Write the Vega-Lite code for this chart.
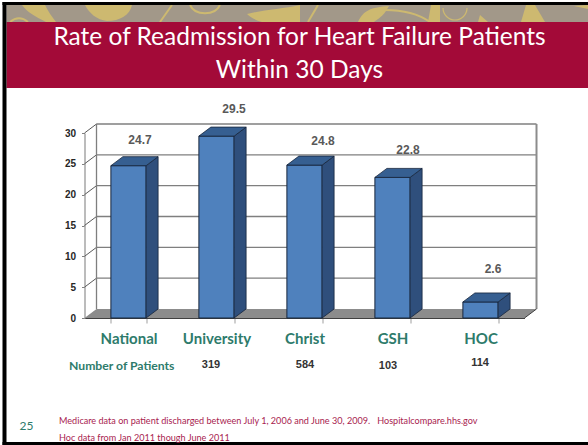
{
"$schema":"https://vega.github.io/schema/vega-lite/v6.json",
"width":440,"height":185,"autosize":"none",
"padding":{"left":84.5,"top":133,"right":63.5,"bottom":127},
"background":"white",
"config":{"view":{"stroke":null},"axisY":{"tickCount":7,"grid":false,"labelOverlap":false,"labelBound":false,"domainColor":"#A6A6A6","domainWidth":1.5,"tickColor":"#808080","tickSize":3,"labelFont":"Liberation Sans","labelFontWeight":"bold","labelFontSize":10,"labelColor":"#262626","labelPadding":6}},
"datasets":{
"bars":[
{"category":"National","value":24.7,"patients":null,"order":0},
{"category":"University","value":29.5,"patients":319,"order":1},
{"category":"Christ","value":24.8,"patients":584,"order":2},
{"category":"GSH","value":22.8,"patients":103,"order":3},
{"category":"HOC","value":2.6,"patients":114,"order":4}],
"depth":[{"t":0},{"t":1}],
"ticks":[{"v":5},{"v":10},{"v":15},{"v":20},{"v":25},{"v":30}],
"one":[{"n":1}]
},
"resolve":{"scale":{"x":"independent"},"axis":{"x":"independent"}},
"layer":[
{"data":{"name":"one"},"mark":{"type":"rect","fill":"#A29889"},"encoding":{"x":{"value":-78},"x2":{"value":503.5},"y":{"value":-128},"y2":{"value":-111}}},
{"data":{"name":"one"},"mark":{"type":"point","filled":true,"fill":"#CDB970","opacity":1,"size":4,"shape":"M22,5 L45,5 C48,11 52,17 56,22 L46,22 C36,17 27,12 22,5 Z M85,5 L132,5 C130,15 120,21 107,21 C97,20 89,13 85,5 Z M247,14 C262,10 282,9 300,5 L300,22 L262,22 C255,20 250,17 247,14 Z M358,22 C363,11 371,7 389,6 L386,11 C381,18 376,20 374,22 Z M428,22 L431,5 L440,5 L440,22 Z M480,15 L488,22 L478,22 Z M521,22 L526,5 L535,5 L545,22 Z M574,6 L588,5 L588,9 Z"},"encoding":{"x":{"value":-84.5},"y":{"value":-133}}},
{"data":{"name":"one"},"mark":{"type":"point","filled":false,"fill":null,"stroke":"#CDB970","strokeWidth":2,"opacity":1,"size":4,"shape":"M160,22 L172,5 M308,22 L318,5 M190,5 C195,16 215,16 220,5 M385,10 C405,10 420,15 430,22 M10,22 C16,17 22,17 28,22"},"encoding":{"x":{"value":-84.5},"y":{"value":-133}}},
{"data":{"name":"one"},"mark":{"type":"point","filled":false,"fill":null,"stroke":"#CDB970","strokeWidth":1.2,"opacity":1,"size":4,"shape":"M443,8 A12,12 0 1 0 467,8"},"encoding":{"x":{"value":-84.5},"y":{"value":-133}}},
{"data":{"name":"one"},"mark":{"type":"rect","fill":"#A30A38"},"encoding":{"x":{"value":-78},"x2":{"value":503.5},"y":{"value":-111},"y2":{"value":-45}}},
{"data":{"name":"one"},"mark":{"type":"rect","fill":"black"},"encoding":{"x":{"value":-82},"x2":{"value":503.5},"y":{"value":-131},"y2":{"value":-128}}},
{"data":{"name":"one"},"mark":{"type":"rect","fill":"black"},"encoding":{"x":{"value":-82},"x2":{"value":-78},"y":{"value":-131},"y2":{"value":312}}},
{"data":{"name":"one"},"mark":{"type":"rect","fill":"black"},"encoding":{"x":{"value":-82},"x2":{"value":503.5},"y":{"value":309},"y2":{"value":312}}},
{"data":{"name":"one"},"mark":{"type":"text","text":"Rate of Readmission for Heart Failure Patients","font":"Lato","fontSize":24.5,"color":"white","align":"center","baseline":"middle"},"encoding":{"x":{"value":215},"y":{"value":-95}}},
{"data":{"name":"one"},"mark":{"type":"text","text":"Within 30 Days","font":"Lato","fontSize":24.5,"color":"white","align":"center","baseline":"middle"},"encoding":{"x":{"value":215},"y":{"value":-62}}},
{"data":{"name":"depth"},"transform":[{"calculate":"datum.t*0.1364","as":"x0"},{"calculate":"5+datum.t*0.1364","as":"x1"},{"calculate":"datum.t*1.46","as":"yy"}],
 "mark":{"type":"area","orient":"horizontal","fill":"#8C8C8C","line":false},
 "encoding":{"y":{"field":"yy","type":"quantitative","scale":{"domain":[0,30],"nice":false},"axis":{"title":null}},
 "x":{"field":"x0","type":"quantitative","scale":{"domain":[0,5],"nice":false},"axis":null},"x2":{"field":"x1"}}},
{"data":{"name":"ticks"},"transform":[{"calculate":"datum.v+1.46","as":"back"},{"calculate":"0.1364","as":"xl"},{"calculate":"5.1364","as":"xr"}],
 "mark":{"type":"rule","color":"#7F7F7F","strokeWidth":1.3},
 "encoding":{"y":{"field":"back","type":"quantitative","axis":{"title":null}},"x":{"field":"xl","type":"quantitative","scale":{"domain":[0,5],"nice":false},"axis":null},"x2":{"field":"xr"}}},
{"data":{"name":"ticks"},"transform":[{"calculate":"[0,1]","as":"t"},{"flatten":["t"]},{"calculate":"datum.t*0.1364","as":"xx"},{"calculate":"datum.v+datum.t*1.46","as":"yy"}],
 "mark":{"type":"line","color":"#595959","strokeWidth":1},
 "encoding":{"detail":{"field":"v"},"y":{"field":"yy","type":"quantitative","axis":{"title":null}},"x":{"field":"xx","type":"quantitative","scale":{"domain":[0,5],"nice":false},"axis":null}}},
{"data":{"name":"depth"},"transform":[{"calculate":"0.1364","as":"xl"},{"calculate":"1.46+datum.t*30","as":"yy"}],
 "mark":{"type":"line","color":"#7F7F7F","strokeWidth":1.3},
 "encoding":{"y":{"field":"yy","type":"quantitative","axis":{"title":null}},"x":{"field":"xl","type":"quantitative","scale":{"domain":[0,5],"nice":false},"axis":null}}},
{"data":{"name":"depth"},"transform":[{"calculate":"5.1364","as":"xl"},{"calculate":"1.46+datum.t*30","as":"yy"}],
 "mark":{"type":"line","color":"#8C8C8C","strokeWidth":2},
 "encoding":{"y":{"field":"yy","type":"quantitative","axis":{"title":null}},"x":{"field":"xl","type":"quantitative","scale":{"domain":[0,5],"nice":false},"axis":null}}},
{"data":{"name":"depth"},"transform":[{"calculate":"5+datum.t*0.1364","as":"xl"},{"calculate":"datum.t*1.46","as":"yy"}],
 "mark":{"type":"line","color":"#404040","strokeWidth":1},
 "encoding":{"y":{"field":"yy","type":"quantitative","axis":{"title":null}},"x":{"field":"xl","type":"quantitative","scale":{"domain":[0,5],"nice":false},"axis":null}}},
{"data":{"name":"bars"},
 "mark":{"type":"bar","fill":"#4F81BD","stroke":"#17263C","strokeWidth":1},
 "encoding":{"x":{"field":"category","type":"nominal","sort":null,"scale":{"type":"band","domain":["National","University","Christ","GSH","HOC"],"paddingInner":0.6,"paddingOuter":0.3},"axis":{"title":null,"labelAngle":0,"tickBand":"extent","domainColor":"#404040","domainWidth":1.2,"tickColor":"#BFBFBF","tickWidth":1.5,"tickSize":5,"labelFont":"Lato","labelFontWeight":"bold","labelFontSize":15,"labelColor":"#2E7B6B","labelPadding":8}},
 "y":{"field":"value","type":"quantitative","axis":{"title":null}}}},
{"data":{"name":"bars"},"transform":[{"calculate":"[0,1]","as":"t"},{"flatten":["t"]},{"calculate":"datum.order+0.7+datum.t*0.1364","as":"xx"},{"calculate":"datum.t*1.46","as":"y0"},{"calculate":"datum.value+datum.t*1.46","as":"y1"}],
 "mark":{"type":"area","fill":"#2F4F7C","stroke":"#17263C","strokeWidth":0.8},
 "encoding":{"detail":{"field":"category"},"x":{"field":"xx","type":"quantitative","scale":{"domain":[0,5],"nice":false},"axis":null},"y":{"field":"y1","type":"quantitative","axis":{"title":null}},"y2":{"field":"y0"}}},
{"data":{"name":"bars"},"transform":[{"calculate":"[0,1]","as":"t"},{"flatten":["t"]},{"calculate":"datum.order+0.3+datum.t*0.1364","as":"x0"},{"calculate":"datum.order+0.7+datum.t*0.1364","as":"x1"},{"calculate":"datum.value+datum.t*1.46","as":"y1"}],
 "mark":{"type":"area","orient":"horizontal","fill":"#365F91","stroke":"#17263C","strokeWidth":0.8},
 "encoding":{"detail":{"field":"category"},"y":{"field":"y1","type":"quantitative","axis":{"title":null}},"x":{"field":"x0","type":"quantitative","scale":{"domain":[0,5],"nice":false},"axis":null},"x2":{"field":"x1"}}},
{"data":{"name":"bars"},"transform":[{"filter":"datum.order==0"},{"calculate":"datum.order+0.5","as":"c"}],"mark":{"type":"text","font":"Liberation Sans","fontWeight":"bold","fontSize":12,"color":"#595959","baseline":"middle","dx":11.5,"dy":-25.7},"encoding":{"x":{"field":"c","type":"quantitative","scale":{"domain":[0,5],"nice":false},"axis":null},"y":{"field":"value","type":"quantitative","axis":{"title":null}},"text":{"field":"value","format":".1f"}}},
{"data":{"name":"bars"},"transform":[{"filter":"datum.order==1"},{"calculate":"datum.order+0.5","as":"c"}],"mark":{"type":"text","font":"Liberation Sans","fontWeight":"bold","fontSize":12,"color":"#595959","baseline":"middle","dx":17.5,"dy":-27},"encoding":{"x":{"field":"c","type":"quantitative","scale":{"domain":[0,5],"nice":false},"axis":null},"y":{"field":"value","type":"quantitative","axis":{"title":null}},"text":{"field":"value","format":".1f"}}},
{"data":{"name":"bars"},"transform":[{"filter":"datum.order==2"},{"calculate":"datum.order+0.5","as":"c"}],"mark":{"type":"text","font":"Liberation Sans","fontWeight":"bold","fontSize":12,"color":"#595959","baseline":"middle","dx":18.5,"dy":-24},"encoding":{"x":{"field":"c","type":"quantitative","scale":{"domain":[0,5],"nice":false},"axis":null},"y":{"field":"value","type":"quantitative","axis":{"title":null}},"text":{"field":"value","format":".1f"}}},
{"data":{"name":"bars"},"transform":[{"filter":"datum.order==3"},{"calculate":"datum.order+0.5","as":"c"}],"mark":{"type":"text","font":"Liberation Sans","fontWeight":"bold","fontSize":12,"color":"#595959","baseline":"middle","dx":15.5,"dy":-27.4},"encoding":{"x":{"field":"c","type":"quantitative","scale":{"domain":[0,5],"nice":false},"axis":null},"y":{"field":"value","type":"quantitative","axis":{"title":null}},"text":{"field":"value","format":".1f"}}},
{"data":{"name":"bars"},"transform":[{"filter":"datum.order==4"},{"calculate":"datum.order+0.5","as":"c"}],"mark":{"type":"text","font":"Liberation Sans","fontWeight":"bold","fontSize":12,"color":"#595959","baseline":"middle","dx":12.5,"dy":-33},"encoding":{"x":{"field":"c","type":"quantitative","scale":{"domain":[0,5],"nice":false},"axis":null},"y":{"field":"value","type":"quantitative","axis":{"title":null}},"text":{"field":"value","format":".1f"}}},
{"data":{"name":"bars"},"transform":[{"filter":"datum.order==1"},{"calculate":"datum.order+0.5","as":"c"}],"mark":{"type":"text","font":"Liberation Sans","fontWeight":"bold","fontSize":11,"color":"#333333","baseline":"middle","dx":-5.5,"dy":47},"encoding":{"x":{"field":"c","type":"quantitative","scale":{"domain":[0,5],"nice":false},"axis":null},"y":{"datum":0,"axis":{"title":null}},"text":{"field":"patients"}}},
{"data":{"name":"bars"},"transform":[{"filter":"datum.order==2"},{"calculate":"datum.order+0.5","as":"c"}],"mark":{"type":"text","font":"Liberation Sans","fontWeight":"bold","fontSize":11,"color":"#333333","baseline":"middle","dx":0.5,"dy":47},"encoding":{"x":{"field":"c","type":"quantitative","scale":{"domain":[0,5],"nice":false},"axis":null},"y":{"datum":0,"axis":{"title":null}},"text":{"field":"patients"}}},
{"data":{"name":"bars"},"transform":[{"filter":"datum.order==3"},{"calculate":"datum.order+0.5","as":"c"}],"mark":{"type":"text","font":"Liberation Sans","fontWeight":"bold","fontSize":11,"color":"#333333","baseline":"middle","dx":-4.5,"dy":47.5},"encoding":{"x":{"field":"c","type":"quantitative","scale":{"domain":[0,5],"nice":false},"axis":null},"y":{"datum":0,"axis":{"title":null}},"text":{"field":"patients"}}},
{"data":{"name":"bars"},"transform":[{"filter":"datum.order==4"},{"calculate":"datum.order+0.5","as":"c"}],"mark":{"type":"text","font":"Liberation Sans","fontWeight":"bold","fontSize":11,"color":"#333333","baseline":"middle","dx":-0.5,"dy":44.5},"encoding":{"x":{"field":"c","type":"quantitative","scale":{"domain":[0,5],"nice":false},"axis":null},"y":{"datum":0,"axis":{"title":null}},"text":{"field":"patients"}}},
{"data":{"name":"one"},"mark":{"type":"text","text":"Number of Patients","font":"Lato","fontWeight":"bold","fontSize":12.2,"color":"#2E7B6B","align":"left","baseline":"middle","dx":-15.5,"dy":48},"encoding":{"x":{"datum":0,"type":"quantitative","scale":{"domain":[0,5],"nice":false},"axis":null},"y":{"datum":0,"axis":{"title":null}}}},
{"data":{"name":"one"},"mark":{"type":"text","text":"25","font":"Lato","fontSize":12,"color":"#2E7B6B","align":"left","baseline":"middle"},"encoding":{"x":{"value":-65},"y":{"value":293}}},
{"data":{"name":"one"},"mark":{"type":"text","text":"Medicare data on patient discharged between July 1, 2006 and June 30, 2009.\u00a0\u00a0\u00a0Hospitalcompare.hhs.gov","font":"Lato","fontSize":9.1,"color":"#A8234F","align":"left","baseline":"middle"},"encoding":{"x":{"value":-25.5},"y":{"value":287.5}}},
{"data":{"name":"one"},"mark":{"type":"text","text":"Hoc data from Jan 2011 though June 2011","font":"Lato","fontSize":9.1,"color":"#A8234F","align":"left","baseline":"middle"},"encoding":{"x":{"value":-25.5},"y":{"value":304.5}}}
]
}
